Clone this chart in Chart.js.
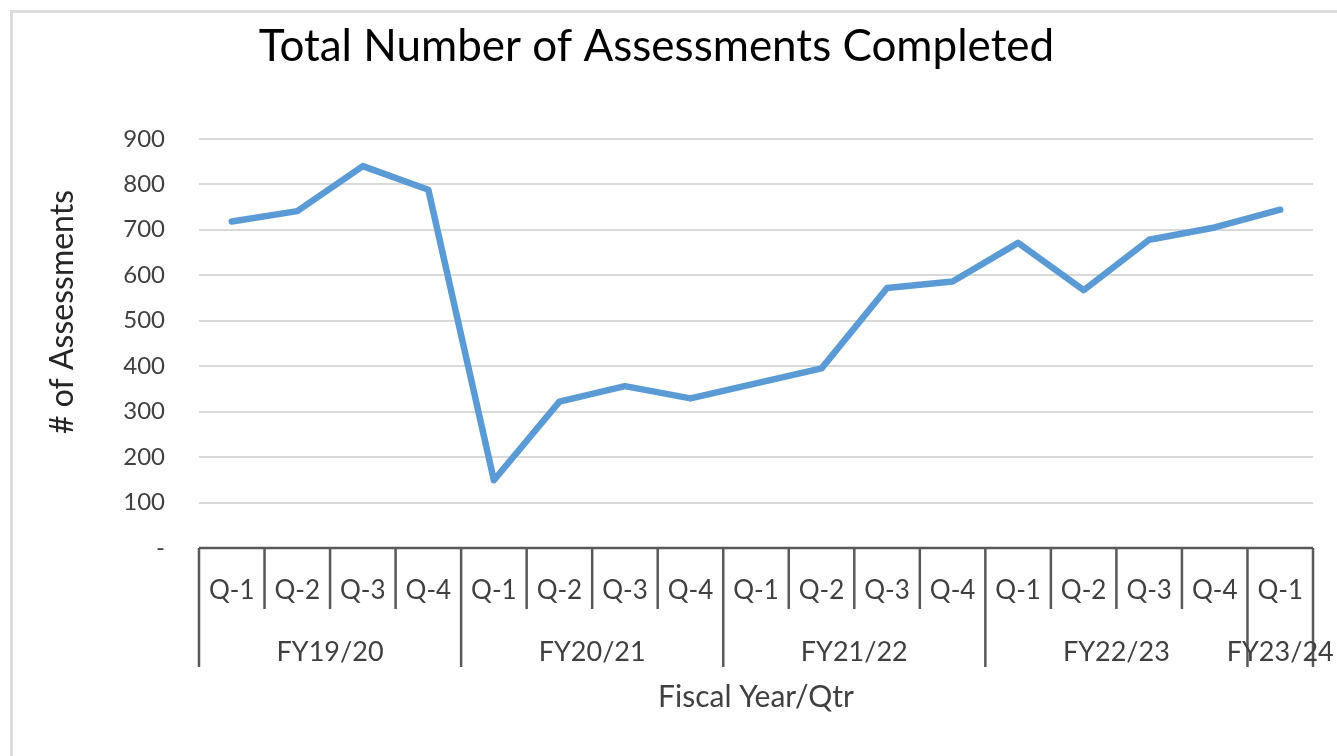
<!DOCTYPE html>
<html>
<head>
<meta charset="utf-8">
<title>Total Number of Assessments Completed</title>
<script src="https://cdn.jsdelivr.net/npm/chart.js@4.4.0/dist/chart.umd.min.js"></script>
<style>
    html, body { margin: 0; padding: 0; background: #fff; }
    #wrap { position: relative; width: 1337px; height: 756px; overflow: hidden; }
    #frame { position: absolute; left: 10px; top: 10px; right: -20px; bottom: -20px;
             border-top: 3px solid #dddddd; border-left: 3px solid #dddddd; pointer-events: none; }
    canvas { position: absolute; left: 0; top: 0; }
</style>
</head>
<body>
<div id="wrap">
    <canvas id="assessChart" width="1337" height="756"></canvas>
    <div id="frame"></div>
</div>
<script>
// Chart data
const quarters = ['Q-1', 'Q-2', 'Q-3', 'Q-4', 'Q-1', 'Q-2', 'Q-3', 'Q-4', 'Q-1',
                  'Q-2', 'Q-3', 'Q-4', 'Q-1', 'Q-2', 'Q-3', 'Q-4', 'Q-1'];
const fiscalYears = ['FY19/20', 'FY20/21', 'FY21/22', 'FY22/23', 'FY23/24'];
const quartersPerYear = [4, 4, 4, 4, 1];
const assessments = [718, 741, 840, 788, 149, 322, 356, 329, 362, 395, 572, 586, 671, 567, 678, 705, 744];
const yAxisTitle = '# of Assessments';

const FONT = 'Lato, "Open Sans", sans-serif';

// Draws the Excel style two level category axis (quarter boxes + fiscal year groups)
// and the y axis title, which Excel places a bit above the plot middle
const groupAxisPlugin = {
    id: 'groupAxis',
    afterDraw(chart) {
        const ctx = chart.ctx;
        const xs = chart.scales.x;
        const top = chart.chartArea.bottom;
        const step = xs.getPixelForValue(1) - xs.getPixelForValue(0);
        const edge = i => xs.getPixelForValue(i) - step / 2;

        // indexes where a fiscal year starts (plus the far end)
        const groupEdges = [0];
        quartersPerYear.forEach(n => groupEdges.push(groupEdges[groupEdges.length - 1] + n));

        ctx.save();
        ctx.strokeStyle = '#595959';
        ctx.lineWidth = 2.5;
        ctx.beginPath();
        ctx.moveTo(edge(0), top);
        ctx.lineTo(edge(quarters.length), top);
        for (let i = 0; i <= quarters.length; i++) {
            const isLong = groupEdges.includes(i);
            ctx.moveTo(edge(i), top);
            ctx.lineTo(edge(i), top + (isLong ? 119 : 61));
        }
        ctx.stroke();

        ctx.fillStyle = '#404040';
        ctx.font = '27px ' + FONT;
        ctx.textAlign = 'center';
        ctx.textBaseline = 'middle';
        let first = 0;
        fiscalYears.forEach((fy, g) => {
            const n = quartersPerYear[g];
            const cx = (xs.getPixelForValue(first) + xs.getPixelForValue(first + n - 1)) / 2;
            ctx.fillText(fy, cx, top + 104);
            first += n;
        });

        // y axis title
        ctx.translate(63, 312);
        ctx.rotate(-Math.PI / 2);
        ctx.fillStyle = '#262626';
        ctx.font = '32px ' + FONT;
        ctx.fillText(yAxisTitle, 0, 0);
        ctx.restore();
    }
};

const chart = new Chart(document.getElementById('assessChart'), {
    type: 'line',
    data: {
        labels: quarters,
        datasets: [{
            data: assessments,
            borderColor: '#5b9bd5',
            borderWidth: 6.5,
            borderCapStyle: 'round',
            borderJoinStyle: 'round',
            pointRadius: 0,
            tension: 0,
            fill: false
        }]
    },
    options: {
        responsive: false,
        animation: false,
        devicePixelRatio: 1,
        layout: { padding: { left: 0, right: 24, top: 0, bottom: 0 } },
        plugins: {
            legend: { display: false },
            tooltip: { enabled: false },
            title: {
                display: true,
                text: 'Total Number of Assessments Completed',
                color: '#000000',
                font: { family: FONT, size: 44, weight: 'normal' },
                padding: { top: 20, bottom: 66 }
            }
        },
        scales: {
            x: {
                offset: true,
                grid: { display: false, drawTicks: false },
                border: { display: false },
                ticks: {
                    padding: 27,
                    color: '#404040',
                    font: { family: FONT, size: 26 },
                    maxRotation: 0,
                    autoSkip: false
                },
                title: {
                    display: true,
                    text: 'Fiscal Year/Qtr',
                    color: '#404040',
                    font: { family: FONT, size: 30 },
                    padding: { top: 0, bottom: 41 }
                },
                afterFit: s => { s.height = 208; }
            },
            y: {
                min: 0,
                max: 900,
                ticks: {
                    stepSize: 100,
                    padding: 34,
                    color: '#404040',
                    font: { family: FONT, size: 24 },
                    callback: v => v === 0 ? '-' : v
                },
                grid: {
                    color: c => c.tick && c.tick.value === 0 ? 'rgba(0,0,0,0)' : '#d9d9d9',
                    lineWidth: 2,
                    drawTicks: false
                },
                border: { display: false },
                afterFit: s => { s.width = 199; }
            }
        }
    },
    plugins: [groupAxisPlugin]
});
</script>
</body>
</html>
